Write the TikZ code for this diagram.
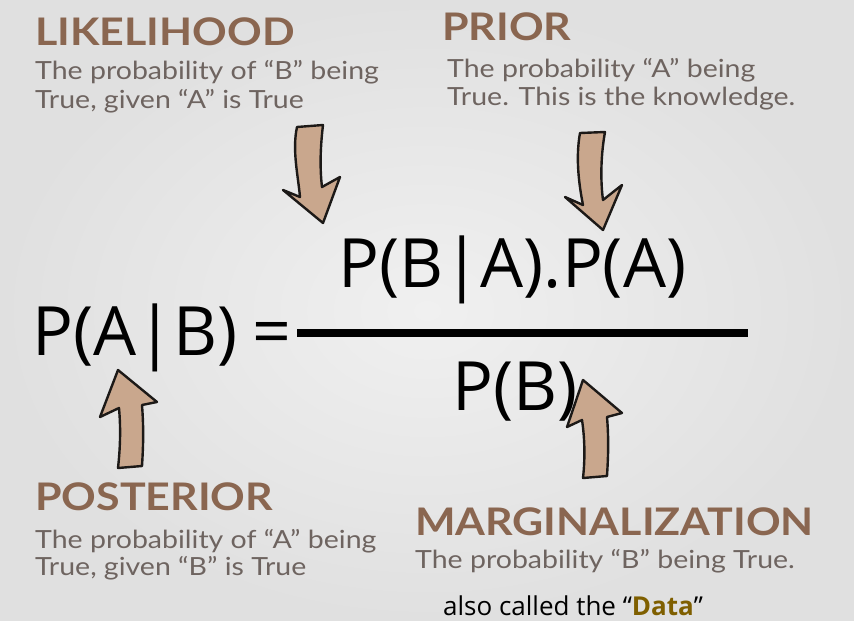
\documentclass[tikz,border=0pt]{standalone}
\usepackage{fontspec}
\setmainfont{Lato}
\newfontfamily\headfont[FakeStretch=1.13]{Lato}
\newfontfamily\notefont[FakeStretch=1.14]{Lato}
\newfontfamily\formulafont{Open Sans}
\usetikzlibrary{positioning}
\definecolor{bayesbgin}{HTML}{F0F0F0}
\definecolor{bayesbgout}{HTML}{E0E0E0}
\definecolor{bayesbrown}{HTML}{8A6650}
\definecolor{bayesgray}{HTML}{6E6460}
\definecolor{bayestan}{HTML}{C9A78D}
\definecolor{bayesdark}{HTML}{1C1917}
\definecolor{bayesgold}{HTML}{7F5F00}
\tikzset{
  heading/.style={anchor=base west, inner sep=0pt, text=bayesbrown,
                  font=\headfont\fontsize{38}{40}\selectfont\bfseries},
  note/.style={anchor=base west, inner sep=0pt, text=bayesgray,
               font=\notefont\fontsize{25}{28}\selectfont},
  formula/.style={anchor=base west, inner sep=0pt, text=black,
                  font=\formulafont\fontsize{68}{70}\selectfont},
  bentarrow/.style={draw=bayesdark, fill=bayestan, line width=2.4pt,
                    line join=round},
  fracbar/.style={line width=8pt, draw=black},
}

\begin{document}
\begin{tikzpicture}[x=1pt, y=-1pt]
  % background
  \shade[inner color=bayesbgin, outer color=bayesbgout] (0,0) rectangle (854,621);
  \useasboundingbox (0,0) rectangle (854,621);

  % labels
  \node[heading] (likelihood) at (35,45) {LIKELIHOOD};
  \node[note] (likelihoodA) at (35,79) {The probability of “B” being};
  \node[note] (likelihoodB) at (35,108) {True, given “A” is True};
  \node[heading] (prior) at (442,40) {PRIOR};
  \node[note] (priorA) at (447,77) {The probability “A” being};
  \node[note] (priorB) at (447,105) {True. This is the knowledge.};
  \node[heading] (posterior) at (35,510) {POSTERIOR};
  \node[note] (posteriorA) at (35,548) {The probability of “A” being};
  \node[note] (posteriorB) at (35,575) {True, given “B” is True};
  \node[heading] (marg) at (415,535) {MARGINALIZATION};
  \node[note] (margA) at (415,568) {The probability “B” being True.};
  \node[anchor=base west, inner sep=0pt,
        font=\formulafont\fontsize{26}{28}\selectfont] (data) at (443,615)
    {also called the “\textcolor{bayesgold}{\bfseries Data}”};

  % formula
  \node[formula] (lhs) at (32,355) {P(A|B)};
  \node[formula] (eq) at (252,355) {=};
  \node[formula] (num) at (338,287) {P(B|A).P(A)};
  \node[formula] (den) at (452,410) {P(B)};
  \coordinate (barL) at (297,333);
  \coordinate (barR) at (748,333);
  \draw[fracbar] (barL) -- (barR);

  % arrows
  \draw[bentarrow] (297,127) -- (323,125) .. controls (320,150) and (320,170) .. (322,187)
    -- (340,177) -- (323,223) -- (283,190) -- (300,197)
    .. controls (298,175) and (292,150) .. (297,127) -- cycle;
  \draw[bentarrow] (580,133) -- (605,132) .. controls (600,160) and (601,185) .. (603,200)
    -- (622,185) -- (603,230) -- (565,197) -- (583,205)
    .. controls (578,180) and (576,155) .. (580,133) -- cycle;
  \draw[bentarrow] (118,370) -- (157,402) -- (142,405)
    .. controls (144,430) and (143,450) .. (142,466) -- (118,468)
    .. controls (120,450) and (121,430) .. (119,408) -- (100,417) -- cycle;
  \draw[bentarrow] (583,380) -- (622,413) -- (607,417)
    .. controls (609,440) and (608,460) .. (607,476) -- (583,478)
    .. controls (585,460) and (585,440) .. (582,420) -- (567,427) -- cycle;
\end{tikzpicture}
\end{document}
